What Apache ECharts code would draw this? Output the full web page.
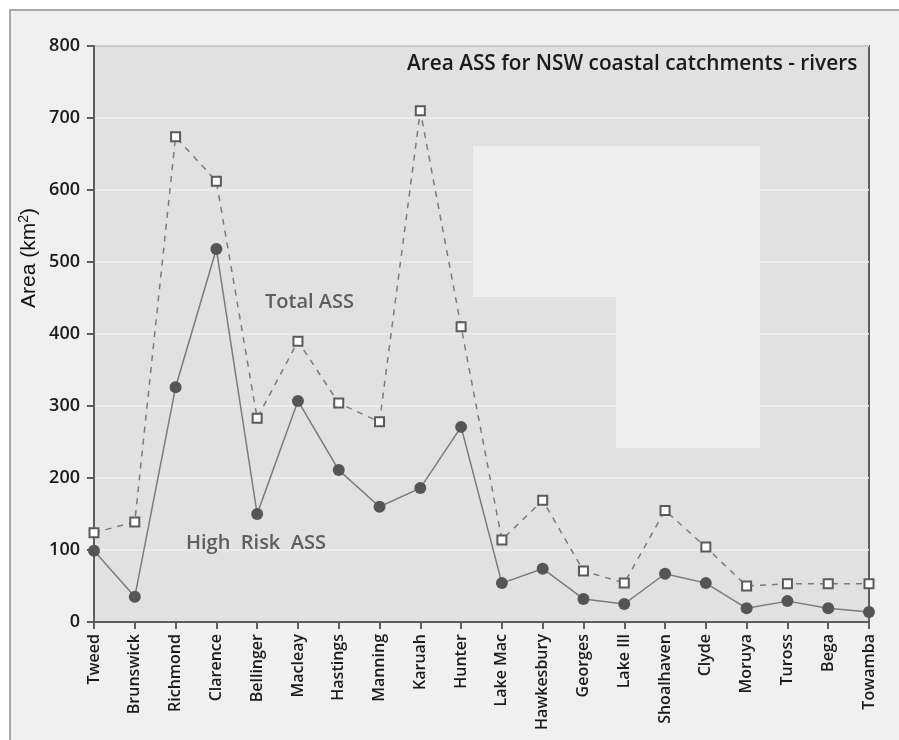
<!DOCTYPE html>
<html>
<head>
<meta charset="utf-8">
<script src="https://cdn.jsdelivr.net/npm/echarts@6/dist/echarts.min.js"></script>
<style>
  html, body { margin: 0; padding: 0; background: #fff; }
  #chart { width: 899px; height: 740px; }
</style>
</head>
<body>
<div id="chart"></div>
<script>
const rivers = ["Tweed", "Brunswick", "Richmond", "Clarence", "Bellinger", "Macleay", "Hastings", "Manning", "Karuah", "Hunter",
  "Lake Mac", "Hawkesbury", "Georges", "Lake Ill", "Shoalhaven", "Clyde", "Moruya", "Tuross", "Bega", "Towamba"]
const totalAss = [124, 139, 674, 612, 283, 390, 304, 278, 710, 410, 114, 169, 71, 54, 155, 104, 50, 53, 53, 53]
const highRiskAss = [99, 35, 326, 518, 150, 307, 211, 160, 186, 271, 54, 74, 32, 25, 67, 54, 19, 29, 19, 14]

const font = "'Open Sans', 'Noto Sans', sans-serif"

const myChart = echarts.init(document.getElementById("chart"))

myChart.setOption({
  backgroundColor: "#ffffff",
  animation: false,
  graphic: [
    {
      type: "rect",
      z: -10,
      silent: true,
      shape: { x: 10, y: 10, width: 895, height: 740 },
      style: { fill: "#f0f0f0", stroke: "#a8a8a8", lineWidth: 2 }
    },
    // blank patches over the plot
    {
      type: "rect",
      z: 5,
      silent: true,
      shape: { x: 473, y: 146, width: 287, height: 151 },
      style: { fill: "#efefef" }
    },
    {
      type: "rect",
      z: 5,
      silent: true,
      shape: { x: 616, y: 296, width: 144, height: 152 },
      style: { fill: "#efefef" }
    },
    {
      type: "text",
      z: 20,
      left: 407,
      top: 54,
      style: { text: "Area ASS for NSW coastal catchments - rivers", font: "600 20.8px " + font, fill: "#1a1a1a" }
    },
    {
      type: "text",
      z: 20,
      left: 265,
      top: 292,
      style: { text: "Total ASS", font: "600 20px " + font, fill: "#5e5e5e" }
    },
    {
      type: "text",
      z: 20,
      left: 186,
      top: 533,
      style: { text: "High  Risk  ASS", font: "600 20px " + font, fill: "#5e5e5e" }
    },
    {
      type: "text",
      z: 20,
      x: 17,
      y: 308,
      rotation: Math.PI / 2,
      style: {
        text: "Area (km{sup|2})",
        font: "21px 'Liberation Sans', Arial, sans-serif",
        fill: "#111",
        rich: {
          sup: { fontSize: 14, verticalAlign: "top", padding: [0, 0, 10, 0], fontFamily: "'Liberation Sans', Arial, sans-serif", fill: "#111" }
        }
      }
    }
  ],
  grid: {
    left: 94,
    right: 30,
    top: 46,
    bottom: 118,
    show: true,
    backgroundColor: "#e1e1e1",
    borderColor: "#5e5e5e",
    borderWidth: 2
  },
  xAxis: {
    type: "category",
    data: rivers,
    boundaryGap: false,
    axisLine: { lineStyle: { color: "#5e5e5e", width: 2 } },
    axisTick: { show: true, length: 7, alignWithLabel: true, lineStyle: { color: "#5e5e5e", width: 2 } },
    axisLabel: {
      rotate: 90,
      interval: 0,
      margin: 12,
      fontFamily: font,
      fontWeight: 600,
      fontSize: 16,
      color: "#1a1a1a"
    },
    splitLine: { show: false }
  },
  yAxis: {
    type: "value",
    min: 0,
    max: 800,
    interval: 100,
    axisLine: { show: true, lineStyle: { color: "#5e5e5e", width: 2 } },
    axisTick: { show: true, length: 7, lineStyle: { color: "#5e5e5e", width: 2 } },
    axisLabel: {
      margin: 14,
      fontFamily: font,
      fontWeight: 600,
      fontSize: 18,
      color: "#1a1a1a"
    },
    splitLine: { lineStyle: { color: "#efefef", width: 1.5 } }
  },
  series: [
    {
      name: "Total ASS",
      type: "line",
      data: totalAss,
      z: 10,
      symbol: "rect",
      symbolSize: 9,
      lineStyle: { color: "#7a7a7a", width: 1.5, type: [6, 6] },
      itemStyle: { color: "#ffffff", borderColor: "#5a5a5a", borderWidth: 2 }
    },
    {
      name: "High Risk ASS",
      type: "line",
      data: highRiskAss,
      z: 11,
      symbol: "circle",
      symbolSize: 12,
      lineStyle: { color: "#7a7a7a", width: 1.5 },
      itemStyle: { color: "#555555", borderWidth: 0 }
    }
  ]
})
</script>
</body>
</html>
